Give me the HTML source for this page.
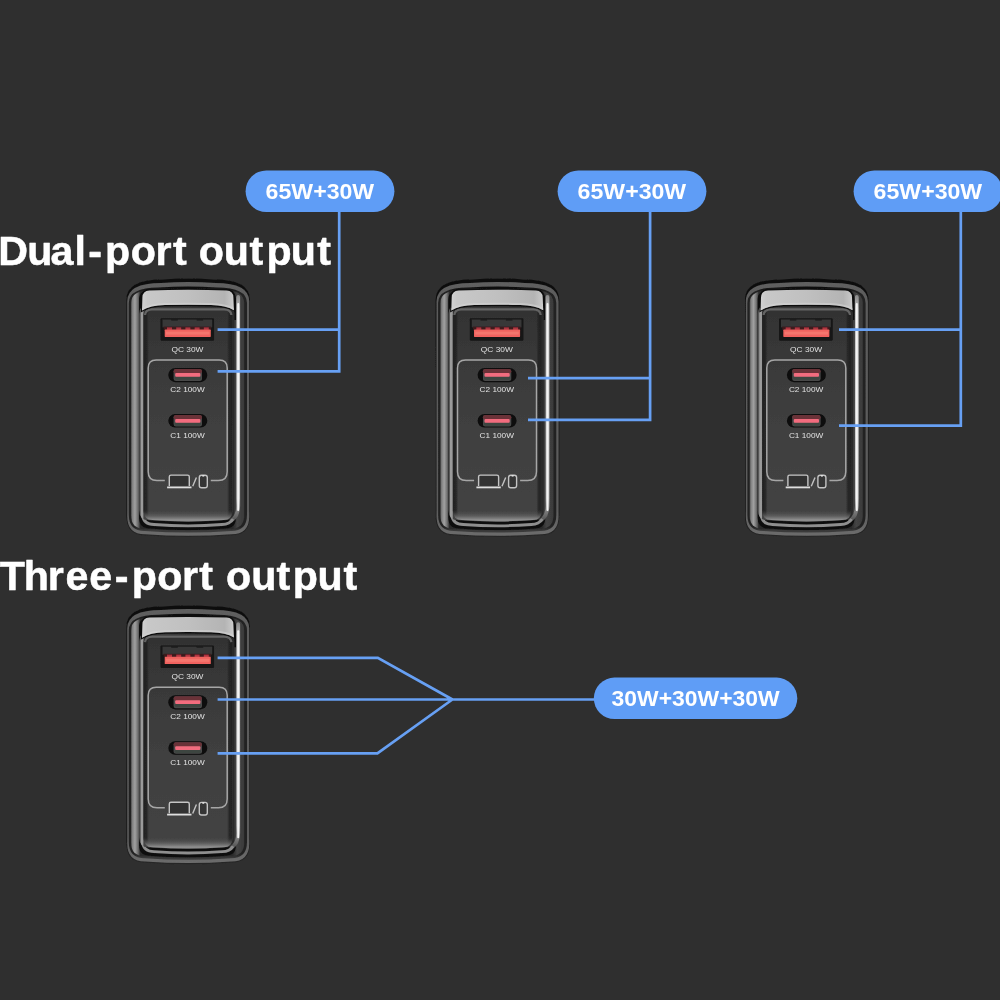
<!DOCTYPE html>
<html lang="en"><head><meta charset="utf-8"><title>Dual-port / Three-port output</title>
<style>
html,body{margin:0;padding:0;background:#2f2f2f;}
body{width:1000px;height:1000px;overflow:hidden;}
svg{display:block}
text{font-family:"Liberation Sans",sans-serif;}
.h{font-weight:700;font-size:40px;fill:#fff;stroke:#fff;stroke-width:0.5px;stroke-linejoin:round;}
.pt{font-weight:700;font-size:21.6px;fill:#fff;}
.pl{font-size:7.4px;fill:#e2e2e2;font-weight:400;}
</style></head><body>
<svg width="1000" height="1000" viewBox="0 0 1000 1000" style="will-change:transform">
<defs>
<filter id="soft" x="-5%" y="-5%" width="110%" height="110%"><feGaussianBlur stdDeviation="0.5"/></filter>
<linearGradient id="rimV" x1="0" y1="0" x2="0" y2="1">
<stop offset="0" stop-color="#5e5e5e"/><stop offset="0.1" stop-color="#5c5c5c"/><stop offset="0.9" stop-color="#5c5c5c"/><stop offset="1" stop-color="#6c6c6c"/>
</linearGradient>
<linearGradient id="outerV" x1="0" y1="0" x2="0" y2="1">
<stop offset="0" stop-color="#101010"/><stop offset="0.9" stop-color="#161616"/><stop offset="1" stop-color="#282828"/>
</linearGradient>
<linearGradient id="l2V" gradientUnits="userSpaceOnUse" x1="0" y1="286.6" x2="0" y2="533">
<stop offset="0" stop-color="#0c0c0c"/><stop offset="0.02" stop-color="#222"/><stop offset="0.975" stop-color="#242424"/><stop offset="0.99" stop-color="#3a3a3a"/><stop offset="1" stop-color="#3c3c3c"/>
</linearGradient>
<linearGradient id="bandH" gradientUnits="userSpaceOnUse" x1="131" y1="0" x2="244.2" y2="0">
<stop offset="0" stop-color="#4a4a4a"/><stop offset="0.012" stop-color="#808080"/><stop offset="0.035" stop-color="#a0a0a0"/><stop offset="0.055" stop-color="#7a7a7a"/><stop offset="0.07" stop-color="#555"/><stop offset="0.08" stop-color="#2a2a2a"/><stop offset="0.9" stop-color="#2a2a2a"/><stop offset="0.94" stop-color="#444"/><stop offset="1" stop-color="#3a3a3a"/>
</linearGradient>
<linearGradient id="rightHi" gradientUnits="userSpaceOnUse" x1="0" y1="295" x2="0" y2="521">
<stop offset="0" stop-color="#8a8a8a"/><stop offset="0.06" stop-color="#b8b8b8"/><stop offset="0.5" stop-color="#c8c8c8"/><stop offset="0.9" stop-color="#b8b8b8"/><stop offset="1" stop-color="#505050"/>
</linearGradient>
<linearGradient id="strip" x1="0" y1="0" x2="1" y2="0">
<stop offset="0" stop-color="#d2d2d2"/><stop offset="0.06" stop-color="#c8c8c8"/><stop offset="0.5" stop-color="#c0c0c0"/><stop offset="0.9" stop-color="#b4b4b4"/><stop offset="0.97" stop-color="#c4c4c4"/><stop offset="1" stop-color="#d0d0d0"/>
</linearGradient>
<linearGradient id="bevel" gradientUnits="userSpaceOnUse" x1="139.2" y1="0" x2="234.5" y2="0">
<stop offset="0" stop-color="#505050"/><stop offset="0.012" stop-color="#5a5a5a"/><stop offset="0.02" stop-color="#9c9c9c"/><stop offset="0.04" stop-color="#989898"/><stop offset="0.048" stop-color="#444"/><stop offset="0.9" stop-color="#333"/><stop offset="1" stop-color="#2a2a2a"/>
</linearGradient>
<linearGradient id="face" x1="0" y1="0" x2="0" y2="1">
<stop offset="0" stop-color="#323232"/><stop offset="0.3" stop-color="#3a3a3a"/><stop offset="0.6" stop-color="#404040"/><stop offset="1" stop-color="#434343"/>
</linearGradient>
<linearGradient id="faceSide" gradientUnits="userSpaceOnUse" x1="143.6" y1="0" x2="232.4" y2="0">
<stop offset="0" stop-color="#202020" stop-opacity="0.95"/><stop offset="0.035" stop-color="#202020" stop-opacity="0.8"/><stop offset="0.06" stop-color="#202020" stop-opacity="0"/><stop offset="0.94" stop-color="#202020" stop-opacity="0"/><stop offset="0.965" stop-color="#202020" stop-opacity="0.75"/><stop offset="1" stop-color="#202020" stop-opacity="0.9"/>
</linearGradient>
<linearGradient id="faceBottom" x1="0" y1="0" x2="0" y2="1">
<stop offset="0" stop-color="#434343" stop-opacity="0"/><stop offset="0.5" stop-color="#666" stop-opacity="0.7"/><stop offset="0.85" stop-color="#8e8e8e"/><stop offset="1" stop-color="#8a8a8a"/>
</linearGradient>
</defs>
<rect width="1000" height="1000" fill="#2f2f2f"/>

<g transform="translate(0,0)" filter="url(#soft)">
<path d="M126.4,299.4 Q126.4,279.4 162.4,279.4 Q188.15,277.4 213.9,279.4 Q249.9,279.4 249.9,299.4 L249.9,516.6 Q249.9,535.6 230.9,535.6 Q188.15,538.6 145.4,535.6 Q126.4,535.6 126.4,516.6 Z" fill="url(#outerV)"/>
<path d="M127.2,301.4 Q127.2,282.9 161.2,282.9 Q188.25,280.9 215.3,282.9 Q249.3,282.9 249.3,301.4 L249.3,516.2 Q249.3,534.2 231.3,534.2 Q188.25,537.2 145.2,534.2 Q127.2,534.2 127.2,516.2 Z" fill="url(#rimV)"/>
<path d="M128.8,303.1 Q128.8,287.6 158.8,287.6 Q187.9,285.6 217,287.6 Q247,287.6 247,303.1 L247,515 Q247,531 231,531 Q187.9,534 144.8,531 Q128.8,531 128.8,515 Z" fill="url(#l2V)"/>
<path d="M131,303 Q131,290 153,290 Q187.6,288.4 222.2,290 Q244.2,290 244.2,303 L244.2,515.2 Q244.2,528.7 230.7,528.7 Q187.6,531.7 144.5,528.7 Q131,528.7 131,515.2 Z" fill="url(#bandH)"/>
<path d="M139,299 Q139,290 153,290 Q187.5,288.4 222,290 Q236,290 236,299 L236,517.6 Q236,528.6 225,528.6 Q187.5,531.6 150,528.6 Q139,528.6 139,517.6 Z" fill="#0e0e0e"/>
<path d="M232,320 L236.2,320 L236.2,508 Q236,516 230,521 L230,500 Z" fill="#404040"/>
<path d="M238.2,297 L238.2,506 Q238,516 231.5,520.5" fill="none" stroke="url(#rightHi)" stroke-width="3.8" stroke-linecap="round"/>
<path d="M238.2,304 L238.2,510" fill="none" stroke="#f4f4f4" stroke-width="2" stroke-linecap="round"/>
<path d="M142.5,515 Q143.5,524.3 154,524.5 Q188,527.1 222,524.5 Q230,524.2 233,519" fill="none" stroke="#8e8e8e" stroke-width="2.8"/>
<path d="M139.2,314 Q139.2,305 148.2,305 Q186.85,305 225.5,305 Q234.5,305 234.5,314 L234.5,510.20000000000005 Q234.5,520.2 224.5,520.2 Q186.85,523.0 149.2,520.2 Q139.2,520.2 139.2,510.20000000000005 Z" fill="url(#bevel)"/>
<path d="M143.6,315.5 Q143.6,307.5 151.6,307.5 Q188.0,307.5 224.4,307.5 Q232.4,307.5 232.4,315.5 L232.4,511 Q232.4,520 223.4,520 Q188.0,522.8 152.6,520 Q143.6,520 143.6,511 Z" fill="url(#face)"/>
<path d="M143.6,315.5 Q143.6,307.5 151.6,307.5 Q188.0,307.5 224.4,307.5 Q232.4,307.5 232.4,315.5 L232.4,511 Q232.4,520 223.4,520 Q188.0,522.8 152.6,520 Q143.6,520 143.6,511 Z" fill="url(#faceSide)"/>
<path d="M145,315 Q145.4,309.6 152,309.4 L224,309.4 Q231,309.6 231.4,315" fill="none" stroke="#6a6a6a" stroke-width="2.2" opacity="0.9"/>
<path d="M143.6,510 L232.4,510 L232.4,511 Q232.4,520 223.4,520 Q188,522.8 152.6,520 Q143.6,520 143.6,511 Z" fill="url(#faceBottom)"/>
<path d="M140.8,312.5 L141.2,297 Q141.4,289.4 149,289.1 Q188,287.7 227,289.1 Q234.8,289.4 235,297 L235.6,312 Q227,306.8 211,306.6 Q188,305.8 165,306.6 Q149,306.8 140.8,312.5 Z" fill="#0e0e0e"/>
<path d="M142,310.6 L142.4,297.4 Q142.6,290.7 149.4,290.4 Q188,289 226.6,290.4 Q233.2,290.7 233.4,297.4 L233.9,310.2 Q226,305.4 211,305.1 Q188,304.3 165,305.1 Q150,305.4 142,310.6 Z" fill="url(#strip)"/>
<path d="M142.1,308.2 Q150,303.4 165,303.1 Q188,302.3 211,303.1 Q226,303.4 233.8,308 L233.9,310.2 Q226,305.4 211,305.1 Q188,304.3 165,305.1 Q150,305.4 142,310.6 Z" fill="#d6d6d6" opacity="0.55"/>
<rect x="160.5" y="318.2" width="53.6" height="22.5" rx="1.2" fill="#141414"/>
<rect x="162.4" y="319.4" width="49.8" height="8" fill="#383838"/>
<rect x="171.2" y="318.6" width="6.6" height="2" fill="#1c1c1c"/>
<rect x="196.6" y="318.6" width="6.6" height="2" fill="#1c1c1c"/>
<rect x="163.6" y="326.6" width="47.6" height="3.2" fill="#3c1a1e"/>
<rect x="167.0" y="327.4" width="5" height="2.4" fill="#b03440"/>
<rect x="176.2" y="327.4" width="5" height="2.4" fill="#b03440"/>
<rect x="185.4" y="327.4" width="5" height="2.4" fill="#b03440"/>
<rect x="194.6" y="327.4" width="5" height="2.4" fill="#b03440"/>
<rect x="203.8" y="327.4" width="5" height="2.4" fill="#b03440"/>
<rect x="164.7" y="329.6" width="46.1" height="7.3" rx="0.6" fill="#f0625e"/>
<rect x="166" y="331.6" width="43.5" height="3" fill="#f7867c" opacity="0.55"/>
<text x="187.5" y="351.9" text-anchor="middle" class="pl" textLength="32" lengthAdjust="spacingAndGlyphs">QC 30W</text>
<path d="M164.8,480.5 L157,480.5 Q148.2,480.5 148.2,471.7 L148.2,368 Q148.2,360 156.2,360 L219.2,360 Q227.2,360 227.2,368 L227.2,471.7 Q227.2,480.5 218.4,480.5 L210.8,480.5" fill="none" stroke="#a6a6a6" stroke-width="1.5"/>
<rect x="168.3" y="368" width="39" height="14.2" rx="7.1" fill="#0c0c0c"/>
<rect x="173.6" y="369.1" width="28.4" height="12.0" rx="2.5" fill="#4a4a4a"/>
<rect x="173.6" y="369.1" width="28.4" height="4.4" rx="2.2" fill="#6a3238"/>
<rect x="174.6" y="376.70000000000005" width="26.4" height="3" rx="1.4" fill="#3c4441"/>
<rect x="175.2" y="373.1" width="25.2" height="3.7" rx="1" fill="#f26c7e"/>
<text x="187.5" y="391.8" text-anchor="middle" class="pl" textLength="34.4" lengthAdjust="spacingAndGlyphs">C2 100W</text>
<rect x="168.3" y="414" width="39" height="13.6" rx="6.8" fill="#0c0c0c"/>
<rect x="173.6" y="415.1" width="28.4" height="11.399999999999999" rx="2.5" fill="#4a4a4a"/>
<rect x="173.6" y="415.1" width="28.4" height="4.4" rx="2.2" fill="#6a3238"/>
<rect x="174.6" y="422.70000000000005" width="26.4" height="3" rx="1.4" fill="#3c4441"/>
<rect x="175.2" y="419.1" width="25.2" height="3.7" rx="1" fill="#f26c7e"/>
<text x="187.5" y="437.8" text-anchor="middle" class="pl" textLength="34.4" lengthAdjust="spacingAndGlyphs">C1 100W</text>
<rect x="169.9" y="475.8" width="18.8" height="10" fill="#333"/>
<path d="M169.3,486 L169.3,476.8 Q169.3,475.1 171,475.1 L187.6,475.1 Q189.3,475.1 189.3,476.8 L189.3,486" fill="none" stroke="#c4c4c4" stroke-width="1.4"/>
<path d="M167.1,487.4 L191.5,487.4" stroke="#dedede" stroke-width="1.8"/>
<path d="M192.7,486.2 L196.4,477.4" stroke="#c4c4c4" stroke-width="1.4"/>
<rect x="199.3" y="475.2" width="8" height="12.6" rx="2.2" fill="#343434" stroke="#c4c4c4" stroke-width="1.4"/>
<rect x="202.3" y="475" width="2" height="1.6" fill="#e0e0e0"/>
</g>
<g transform="translate(309.3,0)" filter="url(#soft)">
<path d="M126.4,299.4 Q126.4,279.4 162.4,279.4 Q188.15,277.4 213.9,279.4 Q249.9,279.4 249.9,299.4 L249.9,516.6 Q249.9,535.6 230.9,535.6 Q188.15,538.6 145.4,535.6 Q126.4,535.6 126.4,516.6 Z" fill="url(#outerV)"/>
<path d="M127.2,301.4 Q127.2,282.9 161.2,282.9 Q188.25,280.9 215.3,282.9 Q249.3,282.9 249.3,301.4 L249.3,516.2 Q249.3,534.2 231.3,534.2 Q188.25,537.2 145.2,534.2 Q127.2,534.2 127.2,516.2 Z" fill="url(#rimV)"/>
<path d="M128.8,303.1 Q128.8,287.6 158.8,287.6 Q187.9,285.6 217,287.6 Q247,287.6 247,303.1 L247,515 Q247,531 231,531 Q187.9,534 144.8,531 Q128.8,531 128.8,515 Z" fill="url(#l2V)"/>
<path d="M131,303 Q131,290 153,290 Q187.6,288.4 222.2,290 Q244.2,290 244.2,303 L244.2,515.2 Q244.2,528.7 230.7,528.7 Q187.6,531.7 144.5,528.7 Q131,528.7 131,515.2 Z" fill="url(#bandH)"/>
<path d="M139,299 Q139,290 153,290 Q187.5,288.4 222,290 Q236,290 236,299 L236,517.6 Q236,528.6 225,528.6 Q187.5,531.6 150,528.6 Q139,528.6 139,517.6 Z" fill="#0e0e0e"/>
<path d="M232,320 L236.2,320 L236.2,508 Q236,516 230,521 L230,500 Z" fill="#404040"/>
<path d="M238.2,297 L238.2,506 Q238,516 231.5,520.5" fill="none" stroke="url(#rightHi)" stroke-width="3.8" stroke-linecap="round"/>
<path d="M238.2,304 L238.2,510" fill="none" stroke="#f4f4f4" stroke-width="2" stroke-linecap="round"/>
<path d="M142.5,515 Q143.5,524.3 154,524.5 Q188,527.1 222,524.5 Q230,524.2 233,519" fill="none" stroke="#8e8e8e" stroke-width="2.8"/>
<path d="M139.2,314 Q139.2,305 148.2,305 Q186.85,305 225.5,305 Q234.5,305 234.5,314 L234.5,510.20000000000005 Q234.5,520.2 224.5,520.2 Q186.85,523.0 149.2,520.2 Q139.2,520.2 139.2,510.20000000000005 Z" fill="url(#bevel)"/>
<path d="M143.6,315.5 Q143.6,307.5 151.6,307.5 Q188.0,307.5 224.4,307.5 Q232.4,307.5 232.4,315.5 L232.4,511 Q232.4,520 223.4,520 Q188.0,522.8 152.6,520 Q143.6,520 143.6,511 Z" fill="url(#face)"/>
<path d="M143.6,315.5 Q143.6,307.5 151.6,307.5 Q188.0,307.5 224.4,307.5 Q232.4,307.5 232.4,315.5 L232.4,511 Q232.4,520 223.4,520 Q188.0,522.8 152.6,520 Q143.6,520 143.6,511 Z" fill="url(#faceSide)"/>
<path d="M145,315 Q145.4,309.6 152,309.4 L224,309.4 Q231,309.6 231.4,315" fill="none" stroke="#6a6a6a" stroke-width="2.2" opacity="0.9"/>
<path d="M143.6,510 L232.4,510 L232.4,511 Q232.4,520 223.4,520 Q188,522.8 152.6,520 Q143.6,520 143.6,511 Z" fill="url(#faceBottom)"/>
<path d="M140.8,312.5 L141.2,297 Q141.4,289.4 149,289.1 Q188,287.7 227,289.1 Q234.8,289.4 235,297 L235.6,312 Q227,306.8 211,306.6 Q188,305.8 165,306.6 Q149,306.8 140.8,312.5 Z" fill="#0e0e0e"/>
<path d="M142,310.6 L142.4,297.4 Q142.6,290.7 149.4,290.4 Q188,289 226.6,290.4 Q233.2,290.7 233.4,297.4 L233.9,310.2 Q226,305.4 211,305.1 Q188,304.3 165,305.1 Q150,305.4 142,310.6 Z" fill="url(#strip)"/>
<path d="M142.1,308.2 Q150,303.4 165,303.1 Q188,302.3 211,303.1 Q226,303.4 233.8,308 L233.9,310.2 Q226,305.4 211,305.1 Q188,304.3 165,305.1 Q150,305.4 142,310.6 Z" fill="#d6d6d6" opacity="0.55"/>
<rect x="160.5" y="318.2" width="53.6" height="22.5" rx="1.2" fill="#141414"/>
<rect x="162.4" y="319.4" width="49.8" height="8" fill="#383838"/>
<rect x="171.2" y="318.6" width="6.6" height="2" fill="#1c1c1c"/>
<rect x="196.6" y="318.6" width="6.6" height="2" fill="#1c1c1c"/>
<rect x="163.6" y="326.6" width="47.6" height="3.2" fill="#3c1a1e"/>
<rect x="167.0" y="327.4" width="5" height="2.4" fill="#b03440"/>
<rect x="176.2" y="327.4" width="5" height="2.4" fill="#b03440"/>
<rect x="185.4" y="327.4" width="5" height="2.4" fill="#b03440"/>
<rect x="194.6" y="327.4" width="5" height="2.4" fill="#b03440"/>
<rect x="203.8" y="327.4" width="5" height="2.4" fill="#b03440"/>
<rect x="164.7" y="329.6" width="46.1" height="7.3" rx="0.6" fill="#f0625e"/>
<rect x="166" y="331.6" width="43.5" height="3" fill="#f7867c" opacity="0.55"/>
<text x="187.5" y="351.9" text-anchor="middle" class="pl" textLength="32" lengthAdjust="spacingAndGlyphs">QC 30W</text>
<path d="M164.8,480.5 L157,480.5 Q148.2,480.5 148.2,471.7 L148.2,368 Q148.2,360 156.2,360 L219.2,360 Q227.2,360 227.2,368 L227.2,471.7 Q227.2,480.5 218.4,480.5 L210.8,480.5" fill="none" stroke="#a6a6a6" stroke-width="1.5"/>
<rect x="168.3" y="368" width="39" height="14.2" rx="7.1" fill="#0c0c0c"/>
<rect x="173.6" y="369.1" width="28.4" height="12.0" rx="2.5" fill="#4a4a4a"/>
<rect x="173.6" y="369.1" width="28.4" height="4.4" rx="2.2" fill="#6a3238"/>
<rect x="174.6" y="376.70000000000005" width="26.4" height="3" rx="1.4" fill="#3c4441"/>
<rect x="175.2" y="373.1" width="25.2" height="3.7" rx="1" fill="#f26c7e"/>
<text x="187.5" y="391.8" text-anchor="middle" class="pl" textLength="34.4" lengthAdjust="spacingAndGlyphs">C2 100W</text>
<rect x="168.3" y="414" width="39" height="13.6" rx="6.8" fill="#0c0c0c"/>
<rect x="173.6" y="415.1" width="28.4" height="11.399999999999999" rx="2.5" fill="#4a4a4a"/>
<rect x="173.6" y="415.1" width="28.4" height="4.4" rx="2.2" fill="#6a3238"/>
<rect x="174.6" y="422.70000000000005" width="26.4" height="3" rx="1.4" fill="#3c4441"/>
<rect x="175.2" y="419.1" width="25.2" height="3.7" rx="1" fill="#f26c7e"/>
<text x="187.5" y="437.8" text-anchor="middle" class="pl" textLength="34.4" lengthAdjust="spacingAndGlyphs">C1 100W</text>
<rect x="169.9" y="475.8" width="18.8" height="10" fill="#333"/>
<path d="M169.3,486 L169.3,476.8 Q169.3,475.1 171,475.1 L187.6,475.1 Q189.3,475.1 189.3,476.8 L189.3,486" fill="none" stroke="#c4c4c4" stroke-width="1.4"/>
<path d="M167.1,487.4 L191.5,487.4" stroke="#dedede" stroke-width="1.8"/>
<path d="M192.7,486.2 L196.4,477.4" stroke="#c4c4c4" stroke-width="1.4"/>
<rect x="199.3" y="475.2" width="8" height="12.6" rx="2.2" fill="#343434" stroke="#c4c4c4" stroke-width="1.4"/>
<rect x="202.3" y="475" width="2" height="1.6" fill="#e0e0e0"/>
</g>
<g transform="translate(618.6,0)" filter="url(#soft)">
<path d="M126.4,299.4 Q126.4,279.4 162.4,279.4 Q188.15,277.4 213.9,279.4 Q249.9,279.4 249.9,299.4 L249.9,516.6 Q249.9,535.6 230.9,535.6 Q188.15,538.6 145.4,535.6 Q126.4,535.6 126.4,516.6 Z" fill="url(#outerV)"/>
<path d="M127.2,301.4 Q127.2,282.9 161.2,282.9 Q188.25,280.9 215.3,282.9 Q249.3,282.9 249.3,301.4 L249.3,516.2 Q249.3,534.2 231.3,534.2 Q188.25,537.2 145.2,534.2 Q127.2,534.2 127.2,516.2 Z" fill="url(#rimV)"/>
<path d="M128.8,303.1 Q128.8,287.6 158.8,287.6 Q187.9,285.6 217,287.6 Q247,287.6 247,303.1 L247,515 Q247,531 231,531 Q187.9,534 144.8,531 Q128.8,531 128.8,515 Z" fill="url(#l2V)"/>
<path d="M131,303 Q131,290 153,290 Q187.6,288.4 222.2,290 Q244.2,290 244.2,303 L244.2,515.2 Q244.2,528.7 230.7,528.7 Q187.6,531.7 144.5,528.7 Q131,528.7 131,515.2 Z" fill="url(#bandH)"/>
<path d="M139,299 Q139,290 153,290 Q187.5,288.4 222,290 Q236,290 236,299 L236,517.6 Q236,528.6 225,528.6 Q187.5,531.6 150,528.6 Q139,528.6 139,517.6 Z" fill="#0e0e0e"/>
<path d="M232,320 L236.2,320 L236.2,508 Q236,516 230,521 L230,500 Z" fill="#404040"/>
<path d="M238.2,297 L238.2,506 Q238,516 231.5,520.5" fill="none" stroke="url(#rightHi)" stroke-width="3.8" stroke-linecap="round"/>
<path d="M238.2,304 L238.2,510" fill="none" stroke="#f4f4f4" stroke-width="2" stroke-linecap="round"/>
<path d="M142.5,515 Q143.5,524.3 154,524.5 Q188,527.1 222,524.5 Q230,524.2 233,519" fill="none" stroke="#8e8e8e" stroke-width="2.8"/>
<path d="M139.2,314 Q139.2,305 148.2,305 Q186.85,305 225.5,305 Q234.5,305 234.5,314 L234.5,510.20000000000005 Q234.5,520.2 224.5,520.2 Q186.85,523.0 149.2,520.2 Q139.2,520.2 139.2,510.20000000000005 Z" fill="url(#bevel)"/>
<path d="M143.6,315.5 Q143.6,307.5 151.6,307.5 Q188.0,307.5 224.4,307.5 Q232.4,307.5 232.4,315.5 L232.4,511 Q232.4,520 223.4,520 Q188.0,522.8 152.6,520 Q143.6,520 143.6,511 Z" fill="url(#face)"/>
<path d="M143.6,315.5 Q143.6,307.5 151.6,307.5 Q188.0,307.5 224.4,307.5 Q232.4,307.5 232.4,315.5 L232.4,511 Q232.4,520 223.4,520 Q188.0,522.8 152.6,520 Q143.6,520 143.6,511 Z" fill="url(#faceSide)"/>
<path d="M145,315 Q145.4,309.6 152,309.4 L224,309.4 Q231,309.6 231.4,315" fill="none" stroke="#6a6a6a" stroke-width="2.2" opacity="0.9"/>
<path d="M143.6,510 L232.4,510 L232.4,511 Q232.4,520 223.4,520 Q188,522.8 152.6,520 Q143.6,520 143.6,511 Z" fill="url(#faceBottom)"/>
<path d="M140.8,312.5 L141.2,297 Q141.4,289.4 149,289.1 Q188,287.7 227,289.1 Q234.8,289.4 235,297 L235.6,312 Q227,306.8 211,306.6 Q188,305.8 165,306.6 Q149,306.8 140.8,312.5 Z" fill="#0e0e0e"/>
<path d="M142,310.6 L142.4,297.4 Q142.6,290.7 149.4,290.4 Q188,289 226.6,290.4 Q233.2,290.7 233.4,297.4 L233.9,310.2 Q226,305.4 211,305.1 Q188,304.3 165,305.1 Q150,305.4 142,310.6 Z" fill="url(#strip)"/>
<path d="M142.1,308.2 Q150,303.4 165,303.1 Q188,302.3 211,303.1 Q226,303.4 233.8,308 L233.9,310.2 Q226,305.4 211,305.1 Q188,304.3 165,305.1 Q150,305.4 142,310.6 Z" fill="#d6d6d6" opacity="0.55"/>
<rect x="160.5" y="318.2" width="53.6" height="22.5" rx="1.2" fill="#141414"/>
<rect x="162.4" y="319.4" width="49.8" height="8" fill="#383838"/>
<rect x="171.2" y="318.6" width="6.6" height="2" fill="#1c1c1c"/>
<rect x="196.6" y="318.6" width="6.6" height="2" fill="#1c1c1c"/>
<rect x="163.6" y="326.6" width="47.6" height="3.2" fill="#3c1a1e"/>
<rect x="167.0" y="327.4" width="5" height="2.4" fill="#b03440"/>
<rect x="176.2" y="327.4" width="5" height="2.4" fill="#b03440"/>
<rect x="185.4" y="327.4" width="5" height="2.4" fill="#b03440"/>
<rect x="194.6" y="327.4" width="5" height="2.4" fill="#b03440"/>
<rect x="203.8" y="327.4" width="5" height="2.4" fill="#b03440"/>
<rect x="164.7" y="329.6" width="46.1" height="7.3" rx="0.6" fill="#f0625e"/>
<rect x="166" y="331.6" width="43.5" height="3" fill="#f7867c" opacity="0.55"/>
<text x="187.5" y="351.9" text-anchor="middle" class="pl" textLength="32" lengthAdjust="spacingAndGlyphs">QC 30W</text>
<path d="M164.8,480.5 L157,480.5 Q148.2,480.5 148.2,471.7 L148.2,368 Q148.2,360 156.2,360 L219.2,360 Q227.2,360 227.2,368 L227.2,471.7 Q227.2,480.5 218.4,480.5 L210.8,480.5" fill="none" stroke="#a6a6a6" stroke-width="1.5"/>
<rect x="168.3" y="368" width="39" height="14.2" rx="7.1" fill="#0c0c0c"/>
<rect x="173.6" y="369.1" width="28.4" height="12.0" rx="2.5" fill="#4a4a4a"/>
<rect x="173.6" y="369.1" width="28.4" height="4.4" rx="2.2" fill="#6a3238"/>
<rect x="174.6" y="376.70000000000005" width="26.4" height="3" rx="1.4" fill="#3c4441"/>
<rect x="175.2" y="373.1" width="25.2" height="3.7" rx="1" fill="#f26c7e"/>
<text x="187.5" y="391.8" text-anchor="middle" class="pl" textLength="34.4" lengthAdjust="spacingAndGlyphs">C2 100W</text>
<rect x="168.3" y="414" width="39" height="13.6" rx="6.8" fill="#0c0c0c"/>
<rect x="173.6" y="415.1" width="28.4" height="11.399999999999999" rx="2.5" fill="#4a4a4a"/>
<rect x="173.6" y="415.1" width="28.4" height="4.4" rx="2.2" fill="#6a3238"/>
<rect x="174.6" y="422.70000000000005" width="26.4" height="3" rx="1.4" fill="#3c4441"/>
<rect x="175.2" y="419.1" width="25.2" height="3.7" rx="1" fill="#f26c7e"/>
<text x="187.5" y="437.8" text-anchor="middle" class="pl" textLength="34.4" lengthAdjust="spacingAndGlyphs">C1 100W</text>
<rect x="169.9" y="475.8" width="18.8" height="10" fill="#333"/>
<path d="M169.3,486 L169.3,476.8 Q169.3,475.1 171,475.1 L187.6,475.1 Q189.3,475.1 189.3,476.8 L189.3,486" fill="none" stroke="#c4c4c4" stroke-width="1.4"/>
<path d="M167.1,487.4 L191.5,487.4" stroke="#dedede" stroke-width="1.8"/>
<path d="M192.7,486.2 L196.4,477.4" stroke="#c4c4c4" stroke-width="1.4"/>
<rect x="199.3" y="475.2" width="8" height="12.6" rx="2.2" fill="#343434" stroke="#c4c4c4" stroke-width="1.4"/>
<rect x="202.3" y="475" width="2" height="1.6" fill="#e0e0e0"/>
</g>
<g transform="translate(0,327.2)" filter="url(#soft)">
<path d="M126.4,299.4 Q126.4,279.4 162.4,279.4 Q188.15,277.4 213.9,279.4 Q249.9,279.4 249.9,299.4 L249.9,516.6 Q249.9,535.6 230.9,535.6 Q188.15,538.6 145.4,535.6 Q126.4,535.6 126.4,516.6 Z" fill="url(#outerV)"/>
<path d="M127.2,301.4 Q127.2,282.9 161.2,282.9 Q188.25,280.9 215.3,282.9 Q249.3,282.9 249.3,301.4 L249.3,516.2 Q249.3,534.2 231.3,534.2 Q188.25,537.2 145.2,534.2 Q127.2,534.2 127.2,516.2 Z" fill="url(#rimV)"/>
<path d="M128.8,303.1 Q128.8,287.6 158.8,287.6 Q187.9,285.6 217,287.6 Q247,287.6 247,303.1 L247,515 Q247,531 231,531 Q187.9,534 144.8,531 Q128.8,531 128.8,515 Z" fill="url(#l2V)"/>
<path d="M131,303 Q131,290 153,290 Q187.6,288.4 222.2,290 Q244.2,290 244.2,303 L244.2,515.2 Q244.2,528.7 230.7,528.7 Q187.6,531.7 144.5,528.7 Q131,528.7 131,515.2 Z" fill="url(#bandH)"/>
<path d="M139,299 Q139,290 153,290 Q187.5,288.4 222,290 Q236,290 236,299 L236,517.6 Q236,528.6 225,528.6 Q187.5,531.6 150,528.6 Q139,528.6 139,517.6 Z" fill="#0e0e0e"/>
<path d="M232,320 L236.2,320 L236.2,508 Q236,516 230,521 L230,500 Z" fill="#404040"/>
<path d="M238.2,297 L238.2,506 Q238,516 231.5,520.5" fill="none" stroke="url(#rightHi)" stroke-width="3.8" stroke-linecap="round"/>
<path d="M238.2,304 L238.2,510" fill="none" stroke="#f4f4f4" stroke-width="2" stroke-linecap="round"/>
<path d="M142.5,515 Q143.5,524.3 154,524.5 Q188,527.1 222,524.5 Q230,524.2 233,519" fill="none" stroke="#8e8e8e" stroke-width="2.8"/>
<path d="M139.2,314 Q139.2,305 148.2,305 Q186.85,305 225.5,305 Q234.5,305 234.5,314 L234.5,510.20000000000005 Q234.5,520.2 224.5,520.2 Q186.85,523.0 149.2,520.2 Q139.2,520.2 139.2,510.20000000000005 Z" fill="url(#bevel)"/>
<path d="M143.6,315.5 Q143.6,307.5 151.6,307.5 Q188.0,307.5 224.4,307.5 Q232.4,307.5 232.4,315.5 L232.4,511 Q232.4,520 223.4,520 Q188.0,522.8 152.6,520 Q143.6,520 143.6,511 Z" fill="url(#face)"/>
<path d="M143.6,315.5 Q143.6,307.5 151.6,307.5 Q188.0,307.5 224.4,307.5 Q232.4,307.5 232.4,315.5 L232.4,511 Q232.4,520 223.4,520 Q188.0,522.8 152.6,520 Q143.6,520 143.6,511 Z" fill="url(#faceSide)"/>
<path d="M145,315 Q145.4,309.6 152,309.4 L224,309.4 Q231,309.6 231.4,315" fill="none" stroke="#6a6a6a" stroke-width="2.2" opacity="0.9"/>
<path d="M143.6,510 L232.4,510 L232.4,511 Q232.4,520 223.4,520 Q188,522.8 152.6,520 Q143.6,520 143.6,511 Z" fill="url(#faceBottom)"/>
<path d="M140.8,312.5 L141.2,297 Q141.4,289.4 149,289.1 Q188,287.7 227,289.1 Q234.8,289.4 235,297 L235.6,312 Q227,306.8 211,306.6 Q188,305.8 165,306.6 Q149,306.8 140.8,312.5 Z" fill="#0e0e0e"/>
<path d="M142,310.6 L142.4,297.4 Q142.6,290.7 149.4,290.4 Q188,289 226.6,290.4 Q233.2,290.7 233.4,297.4 L233.9,310.2 Q226,305.4 211,305.1 Q188,304.3 165,305.1 Q150,305.4 142,310.6 Z" fill="url(#strip)"/>
<path d="M142.1,308.2 Q150,303.4 165,303.1 Q188,302.3 211,303.1 Q226,303.4 233.8,308 L233.9,310.2 Q226,305.4 211,305.1 Q188,304.3 165,305.1 Q150,305.4 142,310.6 Z" fill="#d6d6d6" opacity="0.55"/>
<rect x="160.5" y="318.2" width="53.6" height="22.5" rx="1.2" fill="#141414"/>
<rect x="162.4" y="319.4" width="49.8" height="8" fill="#383838"/>
<rect x="171.2" y="318.6" width="6.6" height="2" fill="#1c1c1c"/>
<rect x="196.6" y="318.6" width="6.6" height="2" fill="#1c1c1c"/>
<rect x="163.6" y="326.6" width="47.6" height="3.2" fill="#3c1a1e"/>
<rect x="167.0" y="327.4" width="5" height="2.4" fill="#b03440"/>
<rect x="176.2" y="327.4" width="5" height="2.4" fill="#b03440"/>
<rect x="185.4" y="327.4" width="5" height="2.4" fill="#b03440"/>
<rect x="194.6" y="327.4" width="5" height="2.4" fill="#b03440"/>
<rect x="203.8" y="327.4" width="5" height="2.4" fill="#b03440"/>
<rect x="164.7" y="329.6" width="46.1" height="7.3" rx="0.6" fill="#f0625e"/>
<rect x="166" y="331.6" width="43.5" height="3" fill="#f7867c" opacity="0.55"/>
<text x="187.5" y="351.9" text-anchor="middle" class="pl" textLength="32" lengthAdjust="spacingAndGlyphs">QC 30W</text>
<path d="M164.8,480.5 L157,480.5 Q148.2,480.5 148.2,471.7 L148.2,368 Q148.2,360 156.2,360 L219.2,360 Q227.2,360 227.2,368 L227.2,471.7 Q227.2,480.5 218.4,480.5 L210.8,480.5" fill="none" stroke="#a6a6a6" stroke-width="1.5"/>
<rect x="168.3" y="368" width="39" height="14.2" rx="7.1" fill="#0c0c0c"/>
<rect x="173.6" y="369.1" width="28.4" height="12.0" rx="2.5" fill="#4a4a4a"/>
<rect x="173.6" y="369.1" width="28.4" height="4.4" rx="2.2" fill="#6a3238"/>
<rect x="174.6" y="376.70000000000005" width="26.4" height="3" rx="1.4" fill="#3c4441"/>
<rect x="175.2" y="373.1" width="25.2" height="3.7" rx="1" fill="#f26c7e"/>
<text x="187.5" y="391.8" text-anchor="middle" class="pl" textLength="34.4" lengthAdjust="spacingAndGlyphs">C2 100W</text>
<rect x="168.3" y="414" width="39" height="13.6" rx="6.8" fill="#0c0c0c"/>
<rect x="173.6" y="415.1" width="28.4" height="11.399999999999999" rx="2.5" fill="#4a4a4a"/>
<rect x="173.6" y="415.1" width="28.4" height="4.4" rx="2.2" fill="#6a3238"/>
<rect x="174.6" y="422.70000000000005" width="26.4" height="3" rx="1.4" fill="#3c4441"/>
<rect x="175.2" y="419.1" width="25.2" height="3.7" rx="1" fill="#f26c7e"/>
<text x="187.5" y="437.8" text-anchor="middle" class="pl" textLength="34.4" lengthAdjust="spacingAndGlyphs">C1 100W</text>
<rect x="169.9" y="475.8" width="18.8" height="10" fill="#333"/>
<path d="M169.3,486 L169.3,476.8 Q169.3,475.1 171,475.1 L187.6,475.1 Q189.3,475.1 189.3,476.8 L189.3,486" fill="none" stroke="#c4c4c4" stroke-width="1.4"/>
<path d="M167.1,487.4 L191.5,487.4" stroke="#dedede" stroke-width="1.8"/>
<path d="M192.7,486.2 L196.4,477.4" stroke="#c4c4c4" stroke-width="1.4"/>
<rect x="199.3" y="475.2" width="8" height="12.6" rx="2.2" fill="#343434" stroke="#c4c4c4" stroke-width="1.4"/>
<rect x="202.3" y="475" width="2" height="1.6" fill="#e0e0e0"/>
</g>
<path d="M217.6,329.6 L339.2,329.6 M217.6,371.4 L339.2,371.4 M339.2,210 L339.2,372.75" fill="none" stroke="#67a0f4" stroke-width="2.7" stroke-linejoin="miter"/>
<path d="M528,378.2 L650.1,378.2 M528,419.8 L650.1,419.8 M650.1,210 L650.1,421.15" fill="none" stroke="#67a0f4" stroke-width="2.7" stroke-linejoin="miter"/>
<path d="M839,329.6 L960.8,329.6 M839,425.6 L960.8,425.6 M960.8,210 L960.8,426.95" fill="none" stroke="#67a0f4" stroke-width="2.7" stroke-linejoin="miter"/>
<path d="M217.6,657.8 L377.8,657.8 L452.4,699.5 L377.4,753.4 L217.6,753.4 M217.6,699.5 L596,699.5" fill="none" stroke="#67a0f4" stroke-width="2.7" stroke-linejoin="miter"/>
<rect x="245.6" y="170.4" width="148.8" height="41.6" rx="20.8" fill="#5f9df6"/><text x="265.6" y="198.9" class="pt" textLength="108.6" lengthAdjust="spacingAndGlyphs">65W+30W</text>
<rect x="557.6" y="170.4" width="148.8" height="41.6" rx="20.8" fill="#5f9df6"/><text x="577.6" y="198.9" class="pt" textLength="108.6" lengthAdjust="spacingAndGlyphs">65W+30W</text>
<rect x="853.6" y="170.4" width="148.8" height="41.6" rx="20.8" fill="#5f9df6"/><text x="873.6" y="198.9" class="pt" textLength="108.6" lengthAdjust="spacingAndGlyphs">65W+30W</text>
<rect x="593.8" y="677.6" width="203.5" height="41.4" rx="20.7" fill="#5f9df6"/><text x="611.6" y="706.0" class="pt" textLength="168" lengthAdjust="spacingAndGlyphs">30W+30W+30W</text>
<text transform="scale(1.03,1)" x="-1.83 26.5 49.08 72.28 85.69 101.86 126.86 151.05 168.05 176.05 193.07 217.23 242.32 258.8 282.28 308.05" y="264.8" class="h">Dual-port output</text>
<text transform="scale(1.03,1)" x="-0.2 23.03 46.25 63.68 86.55 111.47 127.83 152.63 176.64 193.39 201.39 219.53 243.83 268.53 284.34 308.3 333.63" y="589.8" class="h">Three-port output</text>
</svg></body></html>
